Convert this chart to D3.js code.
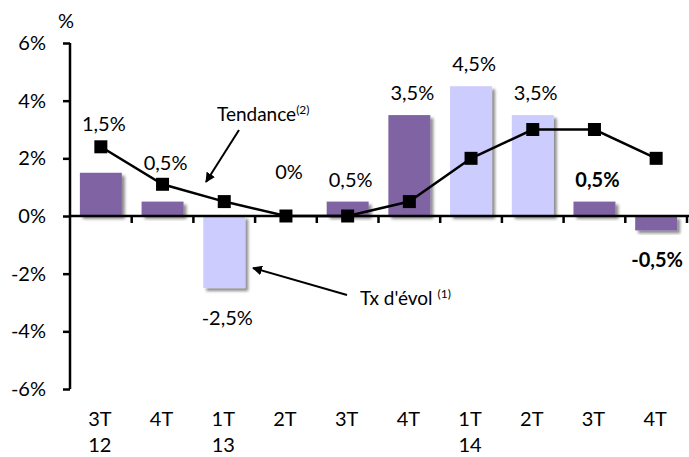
<!DOCTYPE html>
<html>
<head>
<meta charset="utf-8">
<script src="https://cdn.jsdelivr.net/npm/d3@7"></script>
<style>
body { margin: 0; background: #fff; }
svg { font-family: Lato, "Open Sans", sans-serif; }
</style>
</head>
<body>
<svg id="chart" width="689" height="457"></svg>
<script>
var quarters = ['3T', '4T', '1T', '2T', '3T', '4T', '1T', '2T', '3T', '4T'];
var years = ['12', '', '13', '', '', '', '14', '', '', ''];
var evol = [1.5, 0.5, -2.5, 0, 0.5, 3.5, 4.5, 3.5, 0.5, -0.5];
var tendance = [2.4, 1.1, 0.5, 0, 0, 0.5, 2, 3, 3, 2];
var labels = ['1,5%', '0,5%', '-2,5%', '0%', '0,5%', '3,5%', '4,5%', '3,5%', '0,5%', '-0,5%'];
var lightBars = [2, 6, 7];
var boldLabels = [8, 9];
var yTicks = [-6, -4, -2, 0, 2, 4, 6];

var svg = d3.select('#chart');
var pLeft = 70, pRight = 687, pTop = 43, pBottom = 389;

var x = d3.scaleBand().domain(d3.range(evol.length)).range([pLeft, pRight]).paddingInner(0.32).paddingOuter(0.16);
var y = d3.scaleLinear().domain([-6, 6]).range([pBottom, pTop]);
var step = x.step();

var defs = svg.append('defs');
var f = defs.append('filter').attr('id', 'shadow').attr('x', '-20%').attr('y', '-20%').attr('width', '150%').attr('height', '150%');
f.append('feGaussianBlur').attr('in', 'SourceAlpha').attr('stdDeviation', 1.8);
f.append('feOffset').attr('dx', 3).attr('dy', 3).attr('result', 'off');
f.append('feComponentTransfer').attr('result', 'blur').append('feFuncA').attr('type', 'linear').attr('slope', 0.45);
var m = f.append('feMerge');
m.append('feMergeNode').attr('in', 'blur');
m.append('feMergeNode').attr('in', 'SourceGraphic');

// bars
svg.append('g').selectAll('rect').data(evol).enter().append('rect')
	.attr('x', function(d, i) { return x(i); })
	.attr('width', x.bandwidth())
	.attr('y', function(d) { return y(Math.max(0, d)); })
	.attr('height', function(d) { return Math.abs(y(d) - y(0)); })
	.style('fill', function(d, i) { return lightBars.includes(i) ? '#CCCCFF' : '#8064A2'; })
	.attr('filter', 'url(#shadow)');

// y axis
var ya = svg.append('g').attr('transform', 'translate(' + pLeft + ',0)')
	.call(d3.axisLeft(y).tickValues(yTicks).tickSize(7).tickFormat(function(d) { return d + '%'; }));
ya.select('.domain').attr('stroke', '#000').attr('stroke-width', 2.5).attr('d', 'M0,' + pTop + 'V' + pBottom);
ya.selectAll('.tick line').attr('stroke', '#000').attr('stroke-width', 2.5);
ya.selectAll('.tick text').attr('x', -24).style('font-size', '20px').style('fill', '#000')
	.style('font-family', 'Lato, sans-serif');

// x axis at zero
var xTicks = d3.range(evol.length + 1).map(function(i) { return pLeft + i * step; });
svg.append('line').attr('x1', pLeft).attr('x2', 689).attr('y1', y(0)).attr('y2', y(0))
	.attr('stroke', '#000').attr('stroke-width', 2.5);
svg.append('g').selectAll('line').data(xTicks.slice(1)).enter().append('line')
	.attr('x1', function(d) { return d; }).attr('x2', function(d) { return d; })
	.attr('y1', y(0)).attr('y2', y(0) + 7)
	.attr('stroke', '#000').attr('stroke-width', 2.5);

// category labels
var cx = function(i) { return x(i) + x.bandwidth() / 2; };
svg.append('g').selectAll('text').data(quarters).enter().append('text')
	.attr('x', function(d, i) { return cx(i) - 1; }).attr('y', 426)
	.attr('text-anchor', 'middle').style('font-size', '20px').text(function(d) { return d; });
svg.append('g').selectAll('text').data(years).enter().append('text')
	.attr('x', function(d, i) { return cx(i) - 1; }).attr('y', 452)
	.attr('text-anchor', 'middle').style('font-size', '20px').text(function(d) { return d; });

svg.append('text').attr('x', 66).attr('y', 28).attr('text-anchor', 'middle').style('font-size', '20px').text('%');

// trend line
var line = d3.line().x(function(d, i) { return cx(i); }).y(function(d) { return y(d); });
svg.append('path').datum(tendance).attr('d', line).attr('fill', 'none').attr('stroke', '#000').attr('stroke-width', 2.5);
svg.append('g').selectAll('rect').data(tendance).enter().append('rect')
	.attr('x', function(d, i) { return cx(i) - 6.5; }).attr('y', function(d) { return y(d) - 6.5; })
	.attr('width', 13).attr('height', 13).style('fill', '#000');

// value labels: above bar, below negative bars, above the line where it sits higher
var labelY = function(d, i) {
	if (evol[i] < 0) return y(evol[i]) + 37;
	if (i == 0) return y(tendance[i]) - 16;
	if (i == 1) return y(tendance[i]) - 14;
	if (i == 3) return y(0) - 37;
	return y(evol[i]) - 15;
};
svg.append('g').selectAll('text').data(labels).enter().append('text')
	.attr('x', function(d, i) { return cx(i) + (i == 9 ? 1 : 3); })
	.attr('y', labelY)
	.attr('text-anchor', 'middle')
	.style('font-size', '20px')
	.style('font-weight', function(d, i) { return boldLabels.includes(i) ? 'bold' : 'normal'; })
	.text(function(d) { return d; });

// annotations
defs.append('marker').attr('id', 'arrow').attr('viewBox', '0 0 10 10').attr('refX', 9).attr('refY', 5)
	.attr('markerWidth', 5).attr('markerHeight', 5).attr('orient', 'auto')
	.append('path').attr('d', 'M0,0L10,5L0,10z').style('fill', '#000');

var t1 = svg.append('text').attr('x', 217).attr('y', 121).style('font-size', '19px').text('Tendance');
t1.append('tspan').attr('dy', -7).style('font-size', '12px').text('(2)');
svg.append('line').attr('x1', 239).attr('y1', 130).attr('x2', 206).attr('y2', 182)
	.attr('stroke', '#000').attr('stroke-width', 2).attr('marker-end', 'url(#arrow)');

var t2 = svg.append('text').attr('x', 360).attr('y', 305).style('font-size', '19px').text('Tx d\'évol ');
t2.append('tspan').attr('dy', -7).style('font-size', '12px').text('(1)');
svg.append('line').attr('x1', 347).attr('y1', 295).attr('x2', 253).attr('y2', 268)
	.attr('stroke', '#000').attr('stroke-width', 2).attr('marker-end', 'url(#arrow)');
</script>
</body>
</html>
